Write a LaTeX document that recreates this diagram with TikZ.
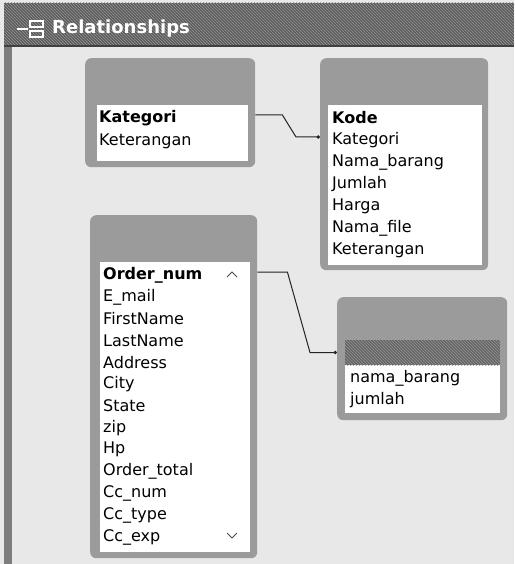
\documentclass[tikz,border=0pt]{standalone}
\usepackage{fontspec}
\setmainfont{DejaVu Sans}
\usepackage{tikz}
\usetikzlibrary{arrows.meta, positioning, calc, patterns}
\definecolor{winbar}{RGB}{92,92,92}
\definecolor{winhatch}{RGB}{150,150,150}
\definecolor{winedge}{RGB}{125,125,125}
\definecolor{canvas}{RGB}{232,232,232}
\definecolor{tblframe}{RGB}{155,155,155}
\definecolor{seldark}{RGB}{100,100,100}
\definecolor{linkdark}{RGB}{35,35,35}
\newcommand\fieldfont{\fontsize{16}{18}\selectfont}
\tikzset{
  tblbox/.style={rectangle, fill=tblframe, rounded corners=6pt,
    inner sep=0pt, anchor=north west},
  fieldarea/.style={rectangle, fill=white, inner sep=0pt, anchor=north west},
  field/.style={anchor=west, inner sep=0pt, font=\fieldfont, text=black},
  keyfield/.style={field, font=\fieldfont\bfseries},
  selrow/.style={rectangle, fill=seldark, inner sep=0pt, anchor=west,
    postaction={pattern=north west lines, pattern color=winhatch}},
  link/.style={line width=1pt, color=linkdark},
  scrollmark/.style={line width=0.9pt, color=black!70}
}

\begin{document}
\begin{tikzpicture}[x=1pt, y=-1pt]
  \useasboundingbox (0,0) rectangle (514,564);
  % window
  \fill[canvas] (0,0) rectangle (514,564);
  \fill[winbar] (4,3) rectangle (514,46);
  \fill[pattern=north west lines, pattern color=winhatch] (4,3) rectangle (514,46);
  \fill[winedge] (4,46) rectangle (12,564);
  \draw[line width=1.5pt, black!75] (4,46) -- (514,46);
  \draw[white, line width=1.5pt] (17,29) -- (28,29);
  \draw[white, line width=1.3pt] (30,21) rectangle (43,27) (30,31) rectangle (43,37);
  \node[anchor=west, inner sep=0pt, text=white,
    font=\fontsize{18}{20}\selectfont\bfseries] (wtitle) at (52,29) {Relationships};

  % kategori table
  \node[tblbox, minimum width=170pt, minimum height=109pt] (kat) at (85,58) {};
  \node[fieldarea, minimum width=151pt, minimum height=56pt] (katf) at (97,105) {};
  \node[keyfield] (kat-1) at (99,118) {Kategori};
  \node[field] (kat-2) at (99,141) {Keterangan};

  % barang table
  \node[tblbox, minimum width=168pt, minimum height=212pt] (brg) at (320,58) {};
  \node[fieldarea, minimum width=154pt, minimum height=160pt] (brgf) at (328,105) {};
  \node[keyfield] (brg-1) at (332,118) {Kode};
  \foreach \fname [count=\i from 2] in {Kategori, Nama\_barang, Jumlah, Harga, Nama\_file, Keterangan}
    \node[field] (brg-\i) at ({332},{118+22*(\i-1)}) {\fname};

  % customer table
  \node[tblbox, minimum width=167pt, minimum height=343pt] (cus) at (90,215) {};
  \node[fieldarea, minimum width=150pt, minimum height=290pt] (cusf) at (100,262) {};
  \node[keyfield] (cus-1) at (103,275) {Order\_num};
  \foreach \fname [count=\i from 2] in {E\_mail, FirstName, LastName, Address, City, State, zip, Hp, Order\_total, Cc\_num, Cc\_type, Cc\_exp}
    \node[field] (cus-\i) at ({103},{275+21.83*(\i-1)}) {\fname};
  \draw[scrollmark] (227,277) -- (232,272) -- (237,277);
  \draw[scrollmark] (227,533) -- (232,538) -- (237,533);

  % orderlist table
  \node[tblbox, minimum width=170pt, minimum height=123pt] (ord) at (337,297) {};
  \node[fieldarea, minimum width=155pt, minimum height=73pt] (ordf) at (345,340) {};
  \node[selrow, minimum width=155pt, minimum height=25pt] (ord-1) at (345,352.5) {};
  \node[field] (ord-2) at (350,378) {nama\_barang};
  \node[field] (ord-3) at (350,400) {jumlah};

  % relationships
  \draw[link, -{Circle[length=3.5pt]}] (kat-1 -| kat.east) ++(0,-3) -- ++(27,0)
    -- ($(brg-2 -| brg.west)+(-24,-3)$) -- ($(brg-2 -| brg.west)+(0,-3)$);
  \draw[link, -{Circle[length=3.5pt]}] (cus-1 -| cus.east) ++(0,-3) -- ++(30,0)
    -- ($(ord-1 -| ord.west)+(-27,0)$) -- (ord-1 -| ord.west);
\end{tikzpicture}
\end{document}
